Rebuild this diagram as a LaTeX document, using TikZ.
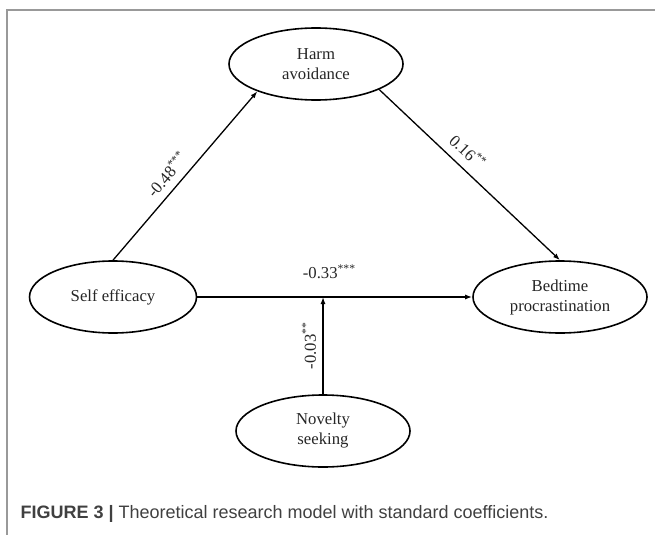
\documentclass[tikz,border=0pt]{standalone}
\usepackage{fontspec}
\setmainfont{Liberation Serif}
\newfontfamily\capfont{Liberation Sans}
\usetikzlibrary{shapes.geometric,arrows.meta}

\tikzset{
  var/.style={ellipse,draw,line width=1.6pt,minimum width=174pt,
    minimum height=72pt,inner sep=0pt,align=center,text=black!85},
  link/.style={-{Latex[length=7pt,width=5pt]},line width=1.3pt},
  coef/.style={sloped,midway,text=black!85}
}

\begin{document}
\begin{tikzpicture}[x=1pt,y=-1pt,font=\fontsize{16.7}{20}\selectfont]
    \useasboundingbox (0,0) rectangle (655,535);
    \draw [gray!80,line width=1.5pt] (655,10) -- (7,10) -- (7,535);

    \node [var] (harm) at (316,64) {Harm\\avoidance};
    \node [var,minimum width=167pt] (self) at (113,297) {Self efficacy};
    \node [var] (bed) at (560,297) {Bedtime\\procrastination};
    \node [var] (nov) at (323,431) {Novelty\\seeking};
    \coordinate (cross) at (nov.north |- self.east);

    \draw [link] (self.north) -- (harm.205)
        node [coef,pos=0.45,above=4pt] {-0.48\textsuperscript{***}};
    \draw [link] (harm.-22) -- (bed.north)
        node [coef,pos=0.43,above=5pt] {0.16\textsuperscript{**}};
    \draw [link] (self.east) -- (bed.west)
        node [pos=0.48,above=14pt,text=black!85] {-0.33\textsuperscript{***}};
    \draw [link] (nov.north) -- (cross)
        node [coef,above=3pt] {-0.03\textsuperscript{**}};

    \node [anchor=base west,font=\capfont\fontsize{18}{22}\selectfont,
        text=black!75] (caption) at (17,518)
        {\textbf{FIGURE 3 |} Theoretical research model with standard coefficients.};
\end{tikzpicture}
\end{document}
